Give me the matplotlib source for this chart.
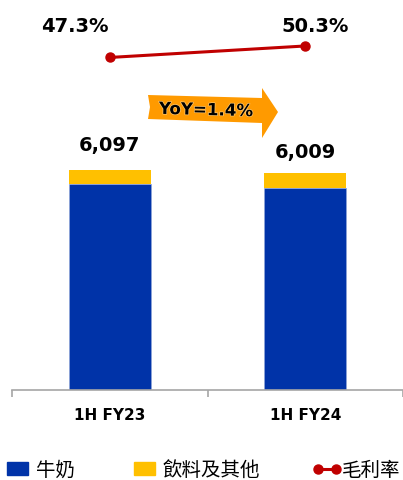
import matplotlib.pyplot as plt
import matplotlib.patheffects as pe
from matplotlib.patches import Polygon, Patch
from matplotlib.lines import Line2D
import numpy as np

plt.rcParams['font.family'] = ['DejaVu Sans', 'Noto Sans CJK TC']

categories = ['1H FY23', '1H FY24']
milk = [5709, 5605]
beverage = [388, 404]
totals = [6097, 6009]
margin = [47.3, 50.3]
yoy_text = 'YoY=1.4%'

blue = '#0033A8'
yellow = '#FFC000'
red = '#C00000'

fig = plt.figure(figsize=(4.03, 4.80), dpi=100)
ax = fig.add_axes([12 / 403, 90 / 480, 391 / 403, 390 / 480])
x = np.arange(len(categories))
w = 0.42
ax.bar(x, milk, w, color=blue, edgecolor='#8FA6D8', linewidth=0.5)
ax.bar(x, beverage, w, bottom=milk, color=yellow)
ax.set_xlim(-0.5, 1.5)
ax.set_ylim(0, 10800)
for s in ['top', 'right', 'left']:
    ax.spines[s].set_visible(False)
ax.spines['bottom'].set_color('#A6A6A6')
ax.spines['bottom'].set_linewidth(1.2)
ax.set_yticks([])
ax.set_xticks(x)
ax.set_xticklabels(categories, fontsize=11, fontweight='bold')
ax.tick_params(axis='x', length=0, pad=13)
ax.set_xticks([-0.5, 0.5, 1.5], minor=True)
ax.tick_params(axis='x', which='minor', length=5, color='#A6A6A6', width=1.2)

offs = [11, 8]
for i, t in enumerate(totals):
    ax.annotate(f'{t:,}', (x[i], t), xytext=(0, offs[i]), textcoords='offset points',
                ha='center', va='bottom', fontsize=14, fontweight='bold')

ax2 = ax.twinx()
ax2.set_ylim(-39.5, 62.3)
ax2.axis('off')
ax2.plot(x, margin, color=red, lw=2.2, marker='o', ms=6.5)
lab_off = [(-25, 22), (7, 14)]
for i, m in enumerate(margin):
    ax2.annotate(f'{m}%', (x[i], m), xytext=lab_off[i], textcoords='offset points',
                 ha='center', va='center', fontsize=14, fontweight='bold')

# YoY arrow overlay
ov = fig.add_axes([0, 0, 1, 1], zorder=5)
ov.set_xlim(0, 403)
ov.set_ylim(480, 0)
ov.axis('off')
arrow = Polygon([(148, 95), (262, 98), (262, 88), (278, 112), (262, 138),
                 (262, 123), (148, 119), (150, 107)], closed=True,
                facecolor='#FF9A00', edgecolor='none')
ov.add_patch(arrow)
ov.text(206, 110, yoy_text, ha='center', va='center', fontsize=12, fontweight='bold',
        rotation=-1.5, path_effects=[pe.withStroke(linewidth=1, foreground='#FFC870')])

leg_prop = {'family': ['Noto Sans CJK TC'], 'size': 14}
bar_handles = [Patch(color=blue), Patch(color=yellow)]
leg1 = fig.legend(bar_handles, ['牛奶', '飲料及其他'], loc='center left',
                  bbox_to_anchor=(7 / 403, 1 - 470 / 480), ncol=2, frameon=False,
                  prop=leg_prop, handlelength=1.1, handleheight=0.6,
                  handletextpad=0.4, columnspacing=3.0, borderpad=0, borderaxespad=0)
line_handle = [Line2D([], [], color=red, lw=2.2, marker='o', ms=6.5)]
fig.legend(line_handle, ['毛利率'], loc='center left',
           bbox_to_anchor=(312 / 403, 1 - 470 / 480), frameon=False, prop=leg_prop,
           handlelength=1.55, handletextpad=0.0, numpoints=2, borderpad=0,
           borderaxespad=0)

fig.savefig('out.png', dpi=100)
